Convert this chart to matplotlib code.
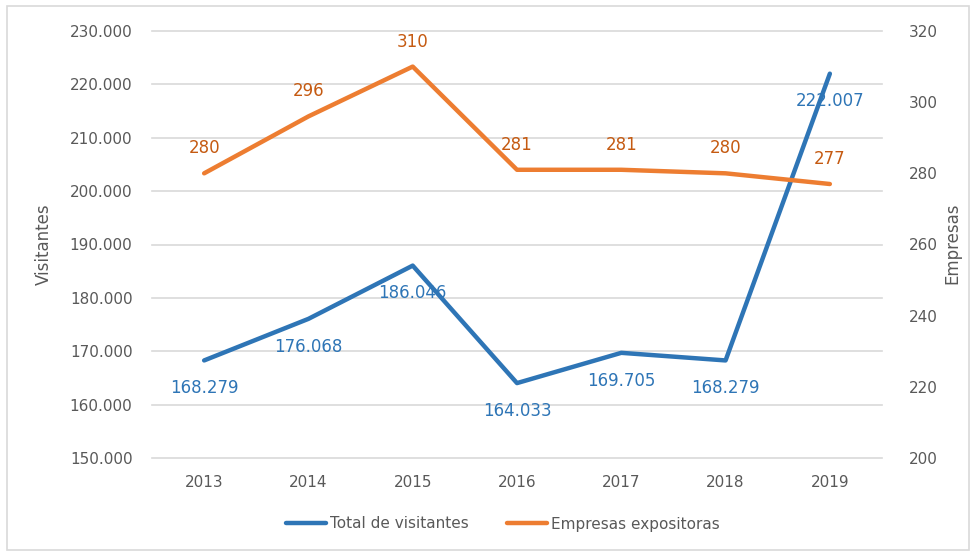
import matplotlib
matplotlib.use("Agg")
import matplotlib.pyplot as plt
from matplotlib.patches import Rectangle

years = ["2013", "2014", "2015", "2016", "2017", "2018", "2019"]
visitantes = [168279, 176068, 186046, 164033, 169705, 168279, 222007]
empresas = [280, 296, 310, 281, 281, 280, 277]
vis_labels = ["168.279", "176.068", "186.046", "164.033", "169.705", "168.279", "222.007"]
left_ticks = [150000, 160000, 170000, 180000, 190000, 200000, 210000, 220000, 230000]
right_ticks = [200, 220, 240, 260, 280, 300, 320]

BLUE = "#2E75B6"
ORANGE = "#ED7D31"
ORANGE_TXT = "#C55A11"
GRID = "#D9D9D9"
TXT = "#595959"

plt.rcParams["font.family"] = ["DejaVu Sans"]

fig = plt.figure(figsize=(9.78, 5.56), dpi=100)
fig.patches.append(Rectangle((7 / 978, 6 / 556), 962 / 978, 544 / 556,
                             transform=fig.transFigure, fill=False,
                             edgecolor="#D9D9D9", linewidth=1.2))
ax = fig.add_axes([152 / 978, 1 - 458 / 556, 730 / 978, 427 / 556])
ax2 = ax.twinx()

x = list(range(len(years)))
l1, = ax.plot(x, visitantes, color=BLUE, lw=3.2, solid_capstyle="round",
              label="Total de visitantes", zorder=3)
l2, = ax2.plot(x, empresas, color=ORANGE, lw=3.2, solid_capstyle="round",
               label="Empresas expositoras", zorder=3)

# data labels: blue below the points, orange above
for xi, v, s in zip(x, visitantes, vis_labels):
    ax.annotate(s, (xi, v), xytext=(0, -20), textcoords="offset points",
                ha="center", va="center", color=BLUE, fontsize=12)
for xi, v in zip(x, empresas):
    ax2.annotate(str(v), (xi, v), xytext=(0, 18), textcoords="offset points",
                 ha="center", va="center", color=ORANGE_TXT, fontsize=12)

ax.set_xlim(-0.5, len(years) - 0.5)
ax.set_ylim(150000, 230000)
ax.set_yticks(left_ticks)
ax.set_yticklabels([f"{t // 1000}.000" for t in left_ticks])
ax2.set_ylim(200, 320)
ax2.set_yticks(right_ticks)
ax.set_xticks(x)
ax.set_xticklabels(years)

ax.grid(axis="y", color=GRID, lw=1.2, zorder=0)
for gl in ax.get_ygridlines():
    gl.set_clip_on(False)
ax.set_axisbelow(True)
for a in (ax, ax2):
    for sp in a.spines.values():
        sp.set_visible(False)
    a.tick_params(length=0, labelsize=11, colors=TXT)
ax.tick_params(axis="y", pad=14)
ax2.tick_params(axis="y", pad=19)
ax.tick_params(axis="x", pad=12)

ax.set_ylabel("Visitantes", fontsize=12, color=TXT, labelpad=12)
ax2.set_ylabel("Empresas", fontsize=12, color=TXT, rotation=90, va="center")
ax2.yaxis.set_label_coords(1.096, 0.503)

fig.legend(handles=[l1, l2], loc="center", bbox_to_anchor=(503 / 978, 1 - 524 / 556),
           ncol=2, frameon=False, fontsize=11, handlelength=2.6, columnspacing=2.5,
           handletextpad=0.3, labelcolor=TXT)

fig.savefig("out.png", dpi=100, facecolor="white")
